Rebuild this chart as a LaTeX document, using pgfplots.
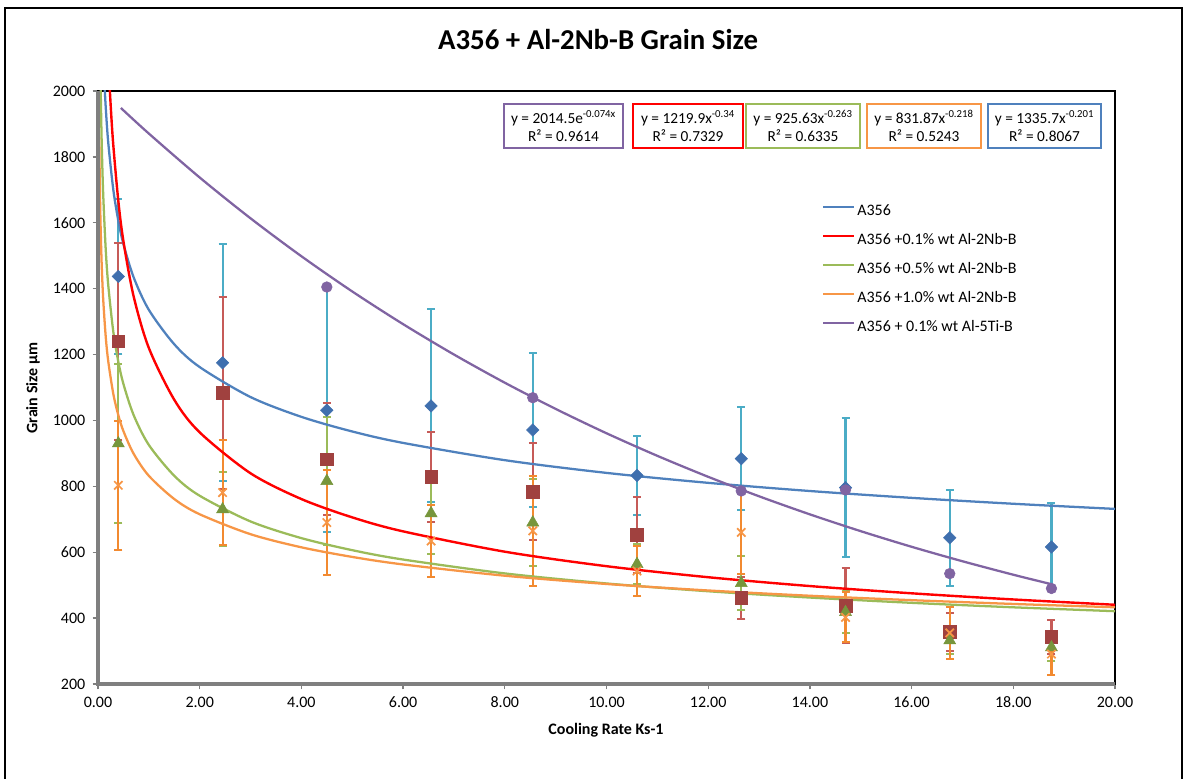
\documentclass[border=0pt]{standalone}
\usepackage{fontspec}
\setmainfont{Carlito}
\usepackage{pgfplots}
\usepackage{pgfplotstable}
\pgfplotsset{compat=1.18}

\definecolor{tlBlue}{HTML}{4F81BD}
\definecolor{tlRed}{HTML}{FF0000}
\definecolor{tlGreen}{HTML}{9BBB59}
\definecolor{tlOrange}{HTML}{F79646}
\definecolor{tlPurple}{HTML}{8064A2}
\definecolor{mkBlue}{HTML}{3F6FAE}
\definecolor{ebCyan}{HTML}{4BACC6}
\definecolor{mkRed}{HTML}{A0413F}
\definecolor{ebRed}{HTML}{C65B58}
\definecolor{mkGreen}{HTML}{77963C}
\definecolor{ebGreen}{HTML}{9BBB59}
\definecolor{mkOrange}{HTML}{F79646}
\definecolor{ebOrange}{HTML}{F28A30}
\definecolor{mkPurple}{HTML}{8064A2}
\definecolor{axGray}{HTML}{7F7F7F}

% x, grain size, error
\pgfplotstableread{
x y e
0.40 1437 236
2.45 1175 360
4.50 1031 370
6.55 1044 293
8.55 971 233
10.60 833 121
12.65 884 157
14.70 796 211
16.75 644 146
18.75 616 132
}\dataA
\pgfplotstableread{
x y e
0.40 1240 300
2.45 1084 291
4.50 882 170
6.55 829 136
8.55 784 148
10.60 653 115
12.65 461 64
14.70 437 114
16.75 358 58
18.75 343 51
}\dataB
\pgfplotstableread{
x y e
0.40 930 240
2.45 730 112
4.50 816 195
6.55 718 122
8.55 690 133
10.60 564 60
12.65 506 82
14.70 418 63
16.75 332 42
18.75 311 40
}\dataC
\pgfplotstableread{
x y e
0.40 803 195
2.45 781 160
4.50 690 160
6.55 634 110
8.55 665 167
10.60 543 75
12.65 660 125
14.70 402 76
16.75 355 80
18.75 291 64
}\dataD
\pgfplotstableread{
x y
4.50 1405
8.55 1069
12.65 786
14.70 789
16.75 535
18.75 490
}\dataE

\begin{document}
\begin{tikzpicture}[x=0.75pt,y=0.75pt]
\useasboundingbox (0,0) rectangle (1187,778);
\fill[white] (0,0) rectangle (1187,778);
\draw[black, line width=2.2pt] (5,-5) -- (5,770) -- (1182,770) -- (1182,-5);

\begin{axis}[
  at={(73.5pt,70.5pt)}, anchor=south west,
  scale only axis, width=762.75pt, height=444.75pt,
  xmin=0, xmax=20, ymin=200, ymax=2000,
  xtick={0,2,4,6,8,10,12,14,16,18,20},
  ytick={200,400,600,800,1000,1200,1400,1600,1800,2000},
  xtick pos=bottom, ytick pos=left,
  tick align=outside, major tick length=4pt,
  tick style={axGray, line width=1pt},
  axis line style={black, line width=2pt},
  x tick label style={yshift=-2.2pt, /pgf/number format/.cd, fixed, fixed zerofill, precision=2, assume math mode=true},
  y tick label style={xshift=-2pt, /pgf/number format/.cd, fixed, set thousands separator={}, assume math mode=true},
  tick label style={font=\fontsize{12}{14}\selectfont},
  title={A356 + Al-2Nb-B Grain Size},
  title style={font=\bfseries\fontsize{21.6}{25}\selectfont, at={(axis description cs:0.4917,1.073)}, anchor=center},
  xlabel={Cooling Rate Ks-1},
  xlabel style={font=\bfseries\fontsize{12}{14}\selectfont, at={(axis description cs:0.4995,-0.0775)}, anchor=center},
  ylabel={Grain Size µm},
  ylabel style={font=\bfseries\fontsize{12}{14}\selectfont, at={(axis description cs:-0.0639,0.499)}, anchor=center},
  legend cell align=left,
  legend image code/.code={\draw[#1] (0pt,3.5pt) -- (23pt,3.5pt);},
  legend style={at={(rel axis cs:0.7119,0.809)}, anchor=north west, draw=none, fill=none,
    inner sep=0pt, row sep=10.75pt, column sep=1.5pt,
    font=\fontsize{12}{14}\selectfont,
    nodes={inner sep=0pt, text height=8.5pt, text depth=2.5pt}},
  after end axis/.code={\draw[axGray, line width=2.4pt] (rel axis cs:0,1) -- (rel axis cs:0,0) -- (rel axis cs:1,0);},
]

% data with error bars
\addplot[forget plot, only marks, mark=square*, mark size=3.3pt,
  mark options={rotate=45, fill=mkBlue, draw=mkBlue},
  error bars/.cd, y dir=both, y explicit,
  error bar style={ebCyan, line width=1.6pt},
  error mark options={rotate=90, ebCyan, line width=1.5pt, mark size=3pt}]
  table[x=x, y=y, y error=e] {\dataA};
\addplot[forget plot, only marks, mark=square*, mark size=4.7pt,
  mark options={fill=mkRed, draw=mkRed},
  error bars/.cd, y dir=both, y explicit,
  error bar style={ebRed, line width=1.6pt},
  error mark options={rotate=90, ebRed, line width=1.5pt, mark size=3pt}]
  table[x=x, y=y, y error=e] {\dataB};
\addplot[forget plot, only marks, mark=triangle*, mark size=5.2pt,
  mark options={fill=mkGreen, draw=mkGreen},
  error bars/.cd, y dir=both, y explicit,
  error bar style={ebGreen, line width=1.6pt},
  error mark options={rotate=90, ebGreen, line width=1.5pt, mark size=3pt}]
  table[x=x, y=y, y error=e] {\dataC};
\addplot[forget plot, only marks, mark=x, mark size=4.4pt,
  mark options={draw=mkOrange, line width=1.3pt},
  error bars/.cd, y dir=both, y explicit,
  error bar style={ebOrange, line width=1.6pt},
  error mark options={rotate=90, ebOrange, line width=1.5pt, mark size=3pt}]
  table[x=x, y=y, y error=e] {\dataD};

% trend lines (Excel fits shown in the boxes)
\addplot[tlBlue, line width=1.7pt, smooth] coordinates {
(0.12,2045)(0.15,1955.8)(0.2,1846.0)(0.3,1701.4)(0.4,1605.8)(0.5,1535.4)(0.7,1434.9)(1,1335.7)(1.5,1231.2)(2,1162.0)(3,1071.0)(4,1010.9)(5,966.5)(6,931.8)(8,879.4)(10,840.8)(12,810.6)(14,785.8)(16,765.0)(18,747.1)(20,731.5)};
\addlegendentry{A356}
\addplot[tlRed, line width=1.8pt, smooth] coordinates {
(0.22,2041.4)(0.25,1954.4)(0.3,1837.0)(0.4,1665.8)(0.5,1544.0)(0.7,1377.2)(1,1219.9)(1.5,1062.8)(2,963.8)(3,839.6)(4,761.4)(5,705.8)(6,663.3)(8,601.6)(10,557.6)(12,524.1)(14,497.3)(16,475.3)(18,456.6)(20,440.5)};
\addlegendentry{A356 +0.1\% wt Al-2Nb-B}
\addplot[tlGreen, line width=1.7pt, smooth] coordinates {
(0.05,2035.2)(0.07,1862.9)(0.1,1696.1)(0.15,1524.5)(0.2,1413.4)(0.3,1270.4)(0.4,1177.9)(0.5,1110.7)(0.7,1016.7)(1,925.6)(1.5,832.0)(2,771.4)(3,693.4)(4,642.8)(5,606.2)(6,577.8)(8,535.7)(10,505.2)(12,481.5)(14,462.4)(16,446.4)(18,432.8)(20,421.0)};
\addlegendentry{A356 +0.5\% wt Al-2Nb-B}
\addplot[tlOrange, line width=1.7pt, smooth] coordinates {
(0.025,1859.2)(0.03,1786.7)(0.04,1678.0)(0.05,1598.4)(0.07,1485.1)(0.1,1374.3)(0.15,1258.0)(0.2,1181.5)(0.3,1081.5)(0.4,1015.8)(0.5,967.6)(0.7,899.2)(1,831.9)(1.5,761.5)(2,715.2)(3,654.7)(4,614.9)(5,585.7)(6,562.9)(8,528.7)(10,503.6)(12,483.9)(14,467.9)(16,454.5)(18,443.0)(20,432.9)};
\addlegendentry{A356 +1.0\% wt Al-2Nb-B}
\addplot[tlPurple, line width=1.7pt, smooth] coordinates {
(0.45,1948.5)(1,1870.8)(2,1737.4)(3,1613.5)(4,1498.4)(5,1391.5)(6,1292.3)(7,1200.1)(8,1114.5)(9,1035.0)(10,961.1)(11,892.6)(12,828.9)(13,769.8)(14,714.9)(15,663.9)(16,616.5)(17,572.6)(18,531.7)(18.75,503.0)};
\addlegendentry{A356 + 0.1\% wt Al-5Ti-B}

\addplot[forget plot, only marks, mark=*, mark size=4pt,
  mark options={fill=mkPurple, draw=mkPurple}]
  table[x=x, y=y] {\dataE};
\end{axis}

\tikzset{eqbox/.style={line width=1.5pt, minimum height=33pt, inner sep=0pt, align=center,
  font=\fontsize{11.5}{13.8}\selectfont, fill=white}}
\node[eqbox, draw=tlPurple, minimum width=89.25pt] at (563.5,652) {y = 2014.5e\textsuperscript{-0.074x}\\R² = 0.9614};
\node[eqbox, draw=tlRed, minimum width=82.5pt] at (688,652) {y = 1219.9x\textsuperscript{-0.34}\\R² = 0.7329};
\node[eqbox, draw=tlGreen, minimum width=85.5pt] at (803,652) {y = 925.63x\textsuperscript{-0.263}\\R² = 0.6335};
\node[eqbox, draw=tlOrange, minimum width=85.5pt] at (924,652) {y = 831.87x\textsuperscript{-0.218}\\R² = 0.5243};
\node[eqbox, draw=tlBlue, minimum width=84.75pt] at (1044.5,652) {y = 1335.7x\textsuperscript{-0.201}\\R² = 0.8067};
\end{tikzpicture}
\end{document}
